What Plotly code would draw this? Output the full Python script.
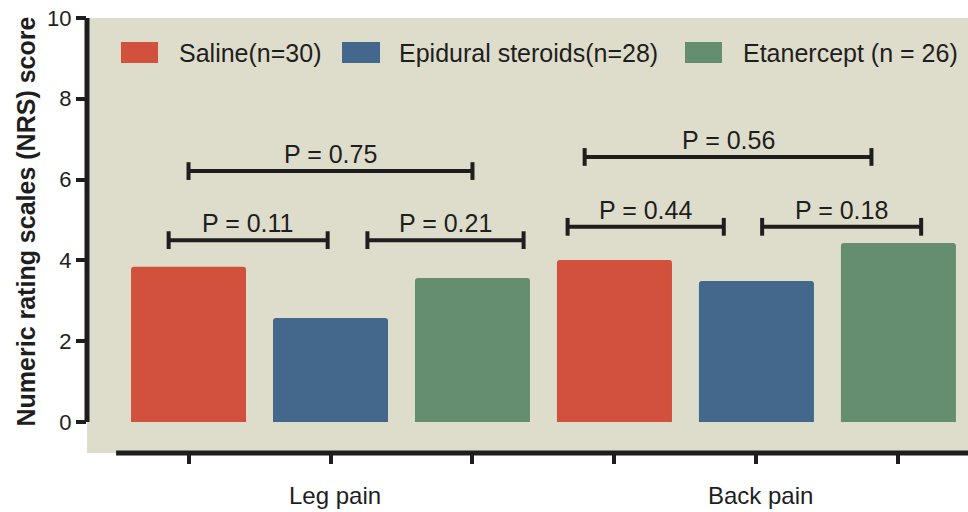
import plotly.graph_objects as go

# ---- data -------------------------------------------------------------
groups = ["Leg pain", "Back pain"]
treatments = ["Saline(n=30)", "Epidural steroids(n=28)", "Etanercept (n = 26)"]
saline = [3.84, 4.01]
epidural = [2.57, 3.49]
etanercept = [3.56, 4.43]
series = [saline, epidural, etanercept]

# pairwise comparisons: (group, first treatment, second treatment, p label)
comparisons = [
    (0, 0, 1, "P = 0.11"),
    (0, 1, 2, "P = 0.21"),
    (0, 0, 2, "P = 0.75"),
    (1, 0, 1, "P = 0.44"),
    (1, 1, 2, "P = 0.18"),
    (1, 0, 2, "P = 0.56"),
]

# ---- styling ----------------------------------------------------------
colors = ["#D1513C", "#44688C", "#658D70"]
bg = "#DEDCCA"
ink = "#1E1E1E"
font_family = "Liberation Sans, Arial, Helvetica, sans-serif"
n_t = len(treatments)

# bracket geometry per comparison: (x start offset, x end offset, height)
bracket_layout = [
    (-0.14, -0.02, 4.50),
    (0.26, 0.36, 4.50),
    (0.00, 0.00, 6.21),
    (-0.33, -0.23, 4.83),
    (0.04, 0.16, 4.83),
    (-0.21, -0.19, 6.56),
]
cap = 0.22

fig = go.Figure()

for ti, (name, vals, col) in enumerate(zip(treatments, series, colors)):
    xs = [gi * n_t + ti for gi in range(len(groups))]
    fig.add_trace(go.Bar(
        x=xs, y=vals, name=name, width=0.81,
        marker=dict(color=col, line=dict(width=0), cornerradius=3),
        showlegend=False,
    ))

shapes = []
annotations = []

# significance brackets with p-value labels
for (gi, a, b, label), (dx0, dx1, h) in zip(comparisons, bracket_layout):
    x0 = gi * n_t + a + dx0
    x1 = gi * n_t + b + dx1
    line = dict(color=ink, width=4)
    shapes.append(dict(type="line", xref="x", yref="y", x0=x0, x1=x1, y0=h, y1=h, line=line))
    for xe in (x0, x1):
        shapes.append(dict(type="line", xref="x", yref="y", x0=xe, x1=xe,
                           y0=h - cap, y1=h + cap, line=line))
    annotations.append(dict(x=(x0 + x1) / 2, y=h, xref="x", yref="y", text=label,
                            showarrow=False, yanchor="bottom", yshift=1,
                            font=dict(size=25, color=ink, family=font_family)))

# offset axis lines
shapes.append(dict(type="line", xref="paper", yref="y", x0=0, x1=0, y0=0, y1=10,
                   line=dict(color=ink, width=5)))
shapes.append(dict(type="line", xref="x", yref="paper", x0=-0.51, x1=5.49, y0=0, y1=0,
                   line=dict(color=ink, width=5)))

# legend drawn as swatches + labels
W, H, L, T = 881.0, 435.0, 87.0, 18.0
def px(x):
    return (x - L) / W
def py(y):
    return (H + T - y) / H

legend_items = [(121, 158, 177), (342, 380, 397), (685, 722, 741)]
for (s0, s1, tx), name, col in zip(legend_items, treatments, colors):
    shapes.append(dict(type="rect", xref="paper", yref="paper",
                       x0=px(s0), x1=px(s1), y0=py(63), y1=py(42),
                       fillcolor=col, line=dict(width=0)))
    annotations.append(dict(x=px(tx), y=py(52.5), xref="paper", yref="paper", text=name,
                            showarrow=False, xanchor="left", yanchor="middle",
                            font=dict(size=25, color=ink, family=font_family)))

# group labels under the axis
for gi, g in enumerate(groups):
    annotations.append(dict(x=gi * n_t + 1, y=py(496), xref="x", yref="paper", text=g,
                            showarrow=False, xshift=4, yanchor="middle",
                            font=dict(size=24, color=ink, family=font_family)))

# y-axis title
annotations.append(dict(x=px(25), y=py(221.5), xref="paper", yref="paper",
                        text="<b>Numeric rating scales (NRS) score</b>", textangle=-90,
                        showarrow=False, xanchor="center", yanchor="middle",
                        font=dict(size=25, color=ink, family=font_family)))

fig.update_layout(
    width=968, height=512,
    margin=dict(l=87, r=0, t=18, b=59),
    paper_bgcolor="white", plot_bgcolor=bg,
    barmode="overlay",
    font=dict(family=font_family, color=ink),
    shapes=shapes, annotations=annotations,
    xaxis=dict(range=[-0.715, 5.49], tickvals=list(range(len(groups) * n_t)),
               ticktext=[""] * (len(groups) * n_t), ticks="outside", ticklen=10,
               tickwidth=4, tickcolor=ink, showgrid=False, zeroline=False,
               showline=False, fixedrange=True),
    yaxis=dict(range=[-0.77, 10], tickvals=[0, 2, 4, 6, 8, 10], ticks="outside",
               ticklen=10, tickwidth=4, tickcolor=ink, showgrid=False, zeroline=False,
               showline=False, tickfont=dict(size=22, color="#222222"), fixedrange=True),
)

fig.write_html("out.html")
